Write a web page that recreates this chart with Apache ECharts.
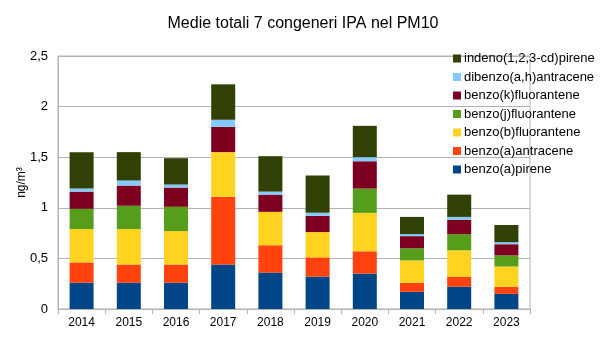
<!DOCTYPE html>
<html><head><meta charset="utf-8">
<script src="https://cdn.jsdelivr.net/npm/echarts@6/dist/echarts.min.js"></script>
<style>html,body{margin:0;padding:0;background:#fff}#c{width:606px;height:341px}</style>
</head><body><div id="c"></div>
<script>
const categories = ['2014','2015','2016','2017','2018','2019','2020','2021','2022','2023'];
const seriesNames = ['benzo(a)pirene','benzo(a)antracene','benzo(b)fluorantene','benzo(j)fluorantene','benzo(k)fluorantene','dibenzo(a,h)antracene','indeno(1,2,3-cd)pirene'];
const BaP = [0.26,0.26,0.26,0.44,0.36,0.32,0.35,0.17,0.22,0.15];
const BaA = [0.20,0.18,0.18,0.67,0.27,0.19,0.22,0.09,0.10,0.07];
const BbF = [0.33,0.35,0.33,0.44,0.33,0.25,0.38,0.22,0.26,0.20];
const BjF = [0.20,0.23,0.24,0,0,0,0.24,0.12,0.16,0.11];
const BkF = [0.17,0.20,0.19,0.25,0.17,0.16,0.27,0.12,0.14,0.11];
const DBA = [0.03,0.05,0.03,0.07,0.03,0.03,0.04,0.02,0.03,0.02];
const IP  = [0.36,0.28,0.26,0.35,0.35,0.37,0.31,0.17,0.22,0.17];
const colors = ['#004586','#ff420e','#ffd320','#579d1c','#7e0021','#83caff','#314004'];
const values = [BaP,BaA,BbF,BjF,BkF,DBA,IP];

const chart = echarts.init(document.getElementById('c'), null, {renderer:'canvas'});
const font = 'Liberation Sans';
chart.setOption({
  animation:false,
  title:{text:'Medie totali 7 congeneri IPA nel PM10', left:'center', top:11,
    textStyle:{fontFamily:font, fontSize:16, fontWeight:'normal', color:'#000'}},
  legend:{orient:'vertical', left:448, top:47, itemWidth:8, itemHeight:8, itemGap:5.5,
    icon:'rect', data:seriesNames.slice().reverse(),
    textStyle:{fontFamily:font, fontSize:13, color:'#000', padding:[0,0,0,-2]}},
  grid:{left:58, right:76, top:56, bottom:32, show:true, borderColor:'#b3b3b3', borderWidth:1},
  xAxis:{type:'category', data:categories,
    axisLine:{lineStyle:{color:'#b3b3b3'}},
    axisTick:{show:true, length:5, lineStyle:{color:'#b3b3b3'}},
    axisLabel:{fontFamily:font, fontSize:12, color:'#000', margin:8}},
  yAxis:{type:'value', min:0, max:2.5, interval:0.5,
    name:'ng/m³', nameLocation:'middle', nameGap:30, nameRotate:90, nameMoveOverlap:false,
    nameTextStyle:{fontFamily:font, fontSize:12, color:'#000'},
    axisLine:{show:true, lineStyle:{color:'#b3b3b3'}},
    axisTick:{show:false},
    splitLine:{lineStyle:{color:'#b3b3b3'}},
    axisLabel:{fontFamily:font, fontSize:13, color:'#000', margin:10,
      formatter:v=>String(v).replace('.',',')}},
  series: seriesNames.map((n,i)=>({name:n, type:'bar', stack:'t', barWidth:24,
    itemStyle:{color:colors[i]}, data:values[i]}))
});
</script></body></html>
